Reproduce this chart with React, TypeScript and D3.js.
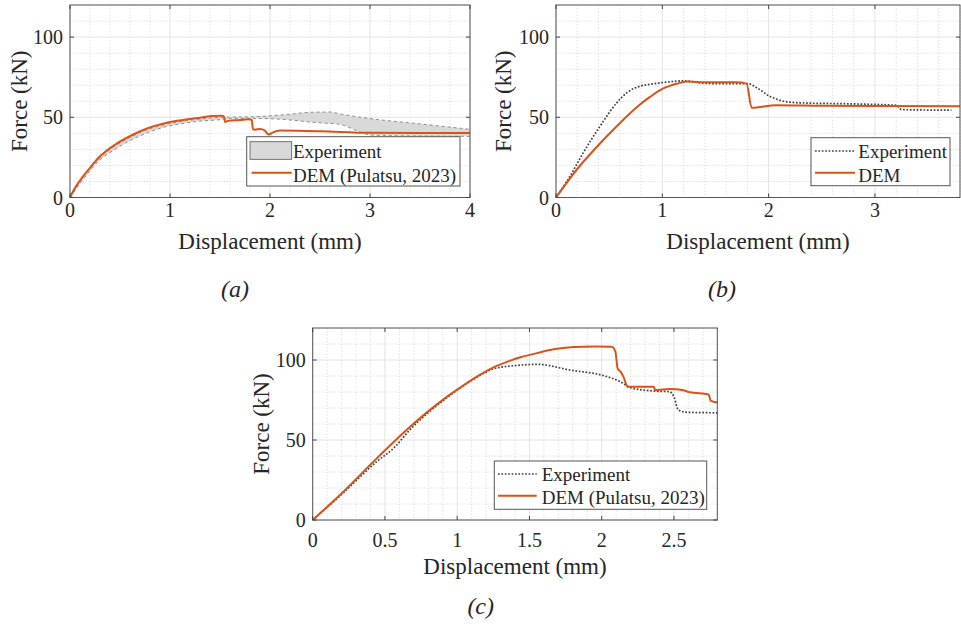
import React from "react";
import * as d3 from "d3";

// ---------- data ----------
// Panel (a)
const aDemX = [0, 0.05, 0.117, 0.2, 0.283, 0.45, 0.617, 0.783, 0.95, 1.117, 1.283, 1.417, 1.517, 1.54, 1.55, 1.583, 1.7, 1.783, 1.817, 1.83, 1.85, 1.9, 1.95, 1.983, 2.03, 2.1, 2.5, 3.0, 4.0];
const aDemY = [0, 6, 12.1, 18.5, 24.6, 32.9, 38.8, 43.3, 46.3, 48.2, 49.6, 50.8, 51.0, 50.5, 47.1, 47.9, 48.3, 48.8, 48.5, 42.5, 42.3, 42.7, 41.7, 39.2, 40.6, 41.7, 41.3, 40.3, 40.2];
const aExpUpX = [0, 0.117, 0.283, 0.45, 0.617, 0.783, 0.95, 1.117, 1.283, 1.5, 1.833, 2.167, 2.4, 2.6, 2.7, 3.0, 3.5, 4.0];
const aExpUpY = [0, 11.5, 23.8, 32, 38, 42.5, 45.5, 47.5, 48.8, 50, 50.4, 51.7, 53.1, 53.3, 52.1, 49.2, 45.9, 42.5];
const aExpLoX = [0, 0.117, 0.283, 0.45, 0.617, 0.783, 0.95, 1.117, 1.283, 1.517, 1.6, 1.833, 2.1, 2.5, 2.67, 3.03, 4.0];
const aExpLoY = [0, 10, 22.5, 30, 36, 40.5, 44, 46, 47.5, 48.6, 49.3, 49.3, 48.8, 46.5, 45.9, 38.8, 38.1];

// Panel (b)
const bDemX = [0, 0.194, 0.383, 0.571, 0.759, 0.884, 1.0, 1.135, 1.229, 1.354, 1.699, 1.793, 1.84, 2.07, 2.5, 3.0, 3.8];
const bDemY = [0, 17.3, 31.5, 44.4, 56.3, 62.7, 67.7, 70.9, 72.3, 71.9, 71.9, 71, 55.9, 57.5, 57.2, 57, 56.9];
const bExpX = [0, 0.13, 0.257, 0.414, 0.571, 0.665, 0.79, 0.884, 1.04, 1.2, 1.354, 1.51, 1.7, 1.81, 1.89, 2.01, 2.14, 2.29, 2.76, 3.2, 3.25, 3.72];
const bExpY = [0, 13.1, 28, 44.4, 59, 65.2, 69.4, 70.6, 71.9, 72.7, 71.5, 70.9, 71, 70.9, 68.4, 63.1, 60, 59, 58.4, 57.5, 54.8, 54.4];

// Panel (c)
const cDemX = [0, 0.212, 0.443, 0.674, 0.905, 1.02, 1.136, 1.251, 1.367, 1.437, 1.552, 1.667, 1.806, 1.95, 2.07, 2.095, 2.11, 2.13, 2.15, 2.18, 2.36, 2.37, 2.47, 2.56, 2.61, 2.74, 2.755, 2.8];
const cDemY = [0, 17.7, 38.5, 58.3, 75.4, 82.7, 89.6, 95.4, 99.6, 101.7, 104.3, 106.7, 108.1, 108.5, 108.3, 105.2, 94.8, 92.7, 89.6, 83.3, 83.3, 81.2, 81.9, 81.2, 79.8, 78.5, 74.4, 73.5];
const cExpX = [0, 0.212, 0.443, 0.559, 0.674, 0.905, 1.136, 1.251, 1.367, 1.437, 1.552, 1.783, 2.014, 2.13, 2.2, 2.36, 2.47, 2.5, 2.53, 2.59, 2.8];
const cExpY = [0, 17, 36.5, 44.8, 56.5, 74.8, 89.2, 94.5, 96.2, 96.8, 97.3, 93.7, 90.2, 86.4, 82.7, 80.6, 80.2, 77, 68.8, 67.3, 67];

const yTicks = [0, 50, 100];
const aXTicks = [0, 1, 2, 3, 4];
const bXTicks = [0, 1, 2, 3];
const cXTicks = [0, 0.5, 1, 1.5, 2, 2.5];
const cXTickLabels = ["0", "0.5", "1", "1.5", "2", "2.5"];

const DEM_COLOR = "#D95319";
const EXP_COLOR = "#404040";
const TEXT = "#262626";
const FONT = "'Liberation Serif', 'Times New Roman', Times, serif";

type Pt = [number, number];
const zip = (xs: number[], ys: number[]): Pt[] => xs.map((x, i) => [x, ys[i]]);

type PanelProps = {
  left: number; top: number; right: number; bottom: number;
  xMax: number; xTicks: number[]; xTickLabels?: string[]; xMinor: number;
  xTickDy: number; xLabelY: number; yLabelX: number;
  children: (x: d3.ScaleLinear<number, number>, y: d3.ScaleLinear<number, number>) => React.ReactNode;
};

function Panel(p: PanelProps) {
  const x = d3.scaleLinear().domain([0, p.xMax]).range([p.left, p.right]);
  const y = d3.scaleLinear().domain([0, 120]).range([p.bottom, p.top]);
  const minorX = d3.range(0, p.xMax + 1e-9, p.xMinor).filter(v => !p.xTicks.some(t => Math.abs(t - v) < 1e-6));
  const minorY = d3.range(0, 120.001, 10).filter(v => v % 50 !== 0);
  const cy = (p.top + p.bottom) / 2;
  return (
    <g>
      <rect x={p.left} y={p.top} width={p.right - p.left} height={p.bottom - p.top} fill="#fff" />
      {minorX.map((v, i) => (
        <line key={"mx" + i} x1={x(v)} x2={x(v)} y1={p.top} y2={p.bottom} stroke="#cfcfcf" strokeWidth={0.8} strokeDasharray="1.2 2" />
      ))}
      {minorY.map((v, i) => (
        <line key={"my" + i} x1={p.left} x2={p.right} y1={y(v)} y2={y(v)} stroke="#cfcfcf" strokeWidth={0.8} strokeDasharray="1.2 2" />
      ))}
      {p.xTicks.map((v, i) => (
        <line key={"gx" + i} x1={x(v)} x2={x(v)} y1={p.top} y2={p.bottom} stroke="#e3e3e3" strokeWidth={1} />
      ))}
      {yTicks.map((v, i) => (
        <line key={"gy" + i} x1={p.left} x2={p.right} y1={y(v)} y2={y(v)} stroke="#e3e3e3" strokeWidth={1} />
      ))}
      {p.children(x, y)}
      <rect x={p.left} y={p.top} width={p.right - p.left} height={p.bottom - p.top} fill="none" stroke="#555" strokeWidth={1} />
      {p.xTicks.map((v, i) => (
        <g key={"tx" + i}>
          <line x1={x(v)} x2={x(v)} y1={p.bottom} y2={p.bottom - 4} stroke="#444" />
          <line x1={x(v)} x2={x(v)} y1={p.top} y2={p.top + 4} stroke="#444" />
          <text x={x(v)} y={p.bottom + p.xTickDy} textAnchor="middle" fontSize={20} fill={TEXT} fontFamily={FONT}>
            {p.xTickLabels ? p.xTickLabels[i] : String(v)}
          </text>
        </g>
      ))}
      {yTicks.map((v, i) => (
        <g key={"ty" + i}>
          <line x1={p.left} x2={p.left + 4} y1={y(v)} y2={y(v)} stroke="#444" />
          <line x1={p.right} x2={p.right - 4} y1={y(v)} y2={y(v)} stroke="#444" />
          <text x={p.left - 7} y={y(v)} dy="0.35em" textAnchor="end" fontSize={20} fill={TEXT} fontFamily={FONT}>{v}</text>
        </g>
      ))}
      <text x={(p.left + p.right) / 2} y={p.xLabelY} textAnchor="middle" fontSize={23} fill={TEXT} fontFamily={FONT}>Displacement (mm)</text>
      <text transform={`translate(${p.yLabelX},${cy}) rotate(-90)`} dy="0.33em" textAnchor="middle" fontSize={23} fill={TEXT} fontFamily={FONT}>Force (kN)</text>
    </g>
  );
}

const smooth = (x: any, y: any) => d3.line<Pt>().x(d => x(d[0])).y(d => y(d[1])).curve(d3.curveMonotoneX);

export default function App() {
  return (
    <svg width={961} height={628} style={{ position: "absolute", left: 0, top: 0, background: "#fff" }}>
      <rect width={961} height={628} fill="#fff" />
      {/* Panel (a) */}
      <Panel left={70} top={5} right={470} bottom={197.5} xMax={4} xTicks={aXTicks} xMinor={0.2} xTickDy={19.5} xLabelY={249} yLabelX={19}>
        {(x, y) => {
          const up = zip(aExpUpX, aExpUpY);
          const lo = zip(aExpLoX, aExpLoY);
          const ln = smooth(x, y);
          const area = ln(up)! + "L" + ln(lo.slice().reverse())!.slice(1) + "Z";
          return (
            <g>
              <path d={area} fill="#d9d9d9" stroke="none" />
              <path d={ln(up)!} fill="none" stroke="#777" strokeWidth={0.8} strokeDasharray="3 3" />
              <path d={ln(lo)!} fill="none" stroke="#777" strokeWidth={0.8} strokeDasharray="3 3" />
              <path d={ln(zip(aDemX, aDemY))!} fill="none" stroke={DEM_COLOR} strokeWidth={2} strokeLinejoin="round" />
              <rect x={246.7} y={136.7} width={213.3} height={49.3} fill="#fff" stroke="#555" strokeWidth={1} />
              <rect x={250} y={141.7} width={41.7} height={17.6} fill="#d9d9d9" stroke="#555" strokeWidth={0.8} />
              <text x={293} y={158.3} fontSize={19} fill={TEXT} fontFamily={FONT}>Experiment</text>
              <line x1={251.7} x2={291.7} y1={172.7} y2={172.7} stroke={DEM_COLOR} strokeWidth={2} />
              <text x={293} y={181.5} fontSize={19} fill={TEXT} fontFamily={FONT}>DEM (Pulatsu, 2023)</text>
            </g>
          );
        }}
      </Panel>
      {/* Panel (b) */}
      <Panel left={556} top={5} right={960} bottom={197.5} xMax={3.8} xTicks={bXTicks} xMinor={0.2} xTickDy={19.5} xLabelY={249} yLabelX={503}>
        {(x, y) => {
          const ln = smooth(x, y);
          return (
            <g>
              <path d={ln(zip(bExpX, bExpY))!} fill="none" stroke={EXP_COLOR} strokeWidth={1.7} strokeDasharray="1.7 1.7" />
              <path d={ln(zip(bDemX, bDemY))!} fill="none" stroke={DEM_COLOR} strokeWidth={2} strokeLinejoin="round" />
              <rect x={811} y={137.7} width={139} height={48} fill="#fff" stroke="#555" strokeWidth={1} />
              <line x1={815} x2={855} y1={151} y2={151} stroke={EXP_COLOR} strokeWidth={1.7} strokeDasharray="1.7 1.7" />
              <text x={858.3} y={158.3} fontSize={19} fill={TEXT} fontFamily={FONT}>Experiment</text>
              <line x1={815} x2={855} y1={172.7} y2={172.7} stroke={DEM_COLOR} strokeWidth={2} />
              <text x={858.3} y={181.5} fontSize={19} fill={TEXT} fontFamily={FONT}>DEM</text>
            </g>
          );
        }}
      </Panel>
      {/* Panel (c) */}
      <Panel left={312.7} top={328} right={717.3} bottom={520} xMax={2.8} xTicks={cXTicks} xTickLabels={cXTickLabels} xMinor={0.1} xTickDy={26.5} xLabelY={574} yLabelX={261}>
        {(x, y) => {
          const ln = smooth(x, y);
          return (
            <g>
              <path d={ln(zip(cExpX, cExpY))!} fill="none" stroke={EXP_COLOR} strokeWidth={1.7} strokeDasharray="1.7 1.7" />
              <path d={ln(zip(cDemX, cDemY))!} fill="none" stroke={DEM_COLOR} strokeWidth={2} strokeLinejoin="round" />
              <rect x={494.3} y={461} width={212.4} height={48.3} fill="#fff" stroke="#555" strokeWidth={1} />
              <line x1={498} x2={536.7} y1={474} y2={474} stroke={EXP_COLOR} strokeWidth={1.7} strokeDasharray="1.7 1.7" />
              <text x={541.7} y={481} fontSize={19} fill={TEXT} fontFamily={FONT}>Experiment</text>
              <line x1={498} x2={536.7} y1={495.7} y2={495.7} stroke={DEM_COLOR} strokeWidth={2} />
              <text x={541.7} y={503.5} fontSize={19} fill={TEXT} fontFamily={FONT}>DEM (Pulatsu, 2023)</text>
            </g>
          );
        }}
      </Panel>
      <text x={235} y={297} textAnchor="middle" fontSize={24} fontStyle="italic" fill={TEXT} fontFamily={FONT}>(a)</text>
      <text x={722} y={297} textAnchor="middle" fontSize={24} fontStyle="italic" fill={TEXT} fontFamily={FONT}>(b)</text>
      <text x={480.7} y={614} textAnchor="middle" fontSize={24} fontStyle="italic" fill={TEXT} fontFamily={FONT}>(c)</text>
    </svg>
  );
}
